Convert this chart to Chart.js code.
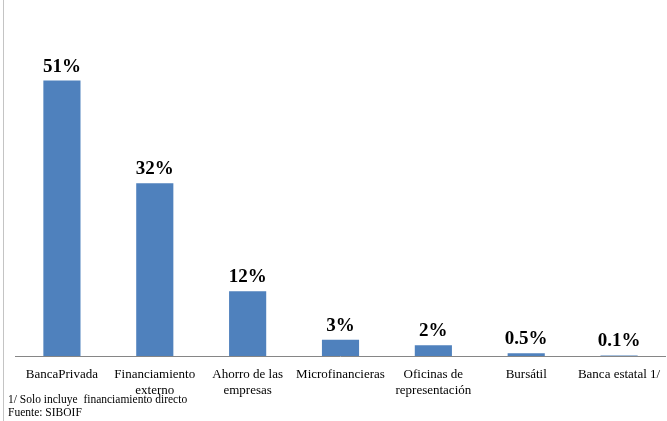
<!DOCTYPE html>
<html>
<head>
<meta charset="utf-8">
<script src="https://cdn.jsdelivr.net/npm/chart.js@4/dist/chart.umd.min.js"></script>
<style>
  body { margin: 0; background: #fff; }
  #wrap { position: relative; width: 667px; height: 421px; overflow: hidden; }
  #frame { position: absolute; left: 3px; top: 0; width: 1px; height: 421px; background: #c4c4c4; }
  .note { position: absolute; left: 8px; font-family: "Liberation Serif", serif; font-size: 11.5px; color: #000; white-space: nowrap; }
</style>
</head>
<body>
<div id="wrap">
  <canvas id="barChart" width="667" height="421"></canvas>
  <div id="frame"></div>
  <div class="note" style="top:393px">1/ Solo incluye&nbsp; financiamiento directo</div>
  <div class="note" style="top:406px">Fuente: SIBOIF</div>
</div>
<script>
// categorias (multilinea donde el texto se parte)
const categories = [
    'BancaPrivada',
    ['Financiamiento', 'externo'],
    ['Ahorro de las', 'empresas'],
    'Microfinancieras',
    ['Oficinas de', 'representación'],
    'Bursátil',
    'Banca estatal 1/'
];
// participacion en %
const shares = [51, 32, 12, 3, 2, 0.5, 0.1];

// etiquetas de valor encima de cada barra
const valueLabels = {
    id: 'valueLabels',
    afterDatasetsDraw(chart) {
        const ctx = chart.ctx;
        const meta = chart.getDatasetMeta(0);
        ctx.save();
        ctx.font = 'bold 19px "Liberation Serif", serif';
        ctx.fillStyle = '#000';
        ctx.textAlign = 'center';
        ctx.textBaseline = 'alphabetic';
        meta.data.forEach(function(bar, i) {
            ctx.fillText(shares[i] + '%', bar.x, bar.y - 9);
        });
        ctx.restore();
    }
};

const ctx = document.getElementById('barChart').getContext('2d');

new Chart(ctx, {
    type: 'bar',
    data: {
        labels: categories,
        datasets: [{
            data: shares,
            backgroundColor: '#4f81bd',
            barPercentage: 0.4,
            categoryPercentage: 1
        }]
    },
    options: {
        responsive: false,
        animation: false,
        layout: {
            padding: { left: 15.5, right: 1.5, top: 32, bottom: 0 }
        },
        plugins: {
            legend: { display: false },
            tooltip: { enabled: false }
        },
        scales: {
            x: {
                grid: { display: false, drawTicks: false },
                border: { display: true, color: '#868686', width: 1 },
                ticks: {
                    color: '#000',
                    padding: 11,
                    autoSkip: false,
                    maxRotation: 0,
                    minRotation: 0,
                    font: { family: '"Liberation Serif", serif', size: 13, lineHeight: 1.23 }
                },
                afterFit: function(scale) {
                    scale.height = 65;
                    // el eje ocupa todo el ancho, sin reservar hueco para las etiquetas extremas
                    scale.paddingLeft = 0;
                    scale.paddingRight = 0;
                }
            },
            y: {
                display: false,
                min: 0,
                max: 60
            }
        }
    },
    plugins: [valueLabels]
});
</script>
</body>
</html>
